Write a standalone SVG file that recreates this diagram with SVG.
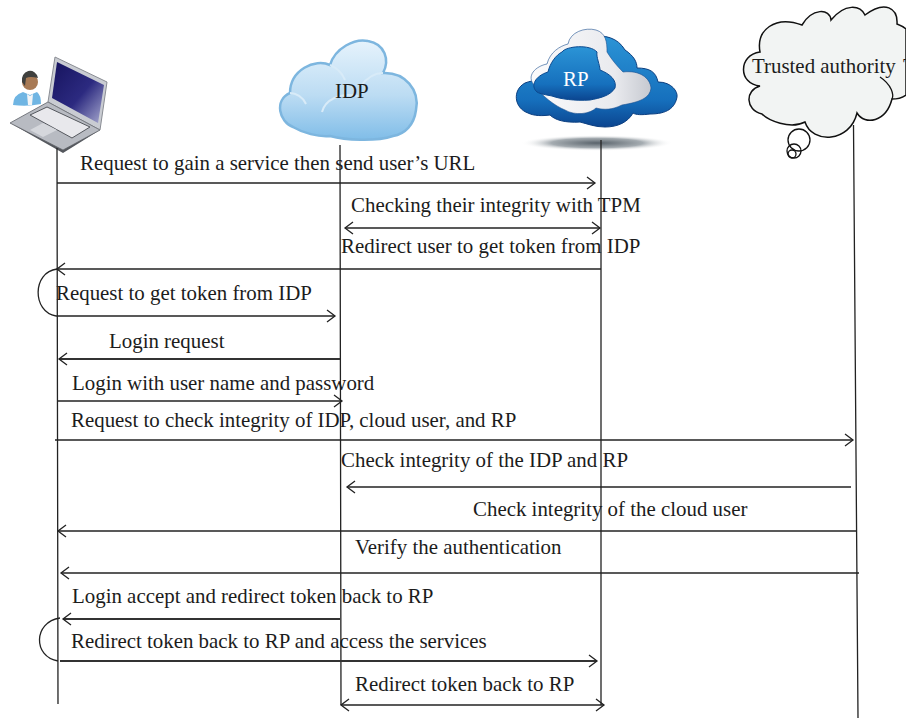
<svg xmlns="http://www.w3.org/2000/svg" width="906" height="718" viewBox="0 0 906 718">
<style>
text{font-family:"Liberation Serif","Times New Roman",serif;font-size:20.9px;fill:#1c1c1c}
.l{stroke:#222;stroke-width:1.300;fill:none}
.m{stroke:#222;stroke-width:1.500;fill:none;marker-end:url(#a)}
.t{stroke:#333;stroke-width:2;fill:none;marker-end:url(#a)}
.b{stroke:#222;stroke-width:1.500;fill:none;marker-end:url(#a);marker-start:url(#s)}
.o{fill:none;stroke:#111;stroke-width:1.300}
</style>
<defs>
<marker id="a" markerUnits="userSpaceOnUse" markerWidth="12" markerHeight="16" refX="9" refY="7" orient="auto"><path d="M1 1L9 7L1 13" fill="none" stroke="#222" stroke-width="1.300"/></marker>
<marker id="s" markerUnits="userSpaceOnUse" markerWidth="12" markerHeight="16" refX="2" refY="7" orient="auto"><path d="M10 1L2 7L10 13" fill="none" stroke="#222" stroke-width="1.300"/></marker>
<linearGradient id="c1" x1="0" y1="0" x2="0" y2="1"><stop offset="0" stop-color="#e6f3fc"/><stop offset=".55" stop-color="#bcdcf3"/><stop offset="1" stop-color="#80bde8"/></linearGradient>
<linearGradient id="c2" x1="0" y1="0" x2="0" y2="1"><stop offset="0" stop-color="#2b94d6"/><stop offset=".7" stop-color="#1670bd"/><stop offset="1" stop-color="#0b4590"/></linearGradient>
<linearGradient id="c3" x1="0" y1="0" x2="1" y2="0"><stop offset="0" stop-color="#fbfbfc"/><stop offset=".7" stop-color="#e9eaee"/><stop offset="1" stop-color="#c6c9d0"/></linearGradient>
<linearGradient id="sc" x1="0" y1="0" x2="1" y2="1"><stop offset="0" stop-color="#16135e"/><stop offset=".55" stop-color="#2c2a80"/><stop offset="1" stop-color="#a9abd0"/></linearGradient>
<radialGradient id="sh"><stop offset="0" stop-color="#59636b"/><stop offset=".6" stop-color="#a5acb1"/><stop offset="1" stop-color="#fff" stop-opacity="0"/></radialGradient>
</defs>

<g id="user">
<path d="M55 57L107 82L100 130L48 102Z" fill="#c9ccd2" stroke="#8a8d94"/>
<path d="M57 62L104 85L98 123L52 98Z" fill="url(#sc)"/>
<path d="M10 123L48 102L100 130L63 150Z" fill="#b8bbc2" stroke="#777a80"/>
<path d="M30 115L47 107L90 127L72 138Z" fill="#e8e8ec" stroke="#55585e"/>
<path d="M30 130L43 123L57 130L43 137Z" fill="#d5d7dc"/>
<path d="M10 123L63 150L100 130L63 153Z" fill="#55585e"/>
<circle cx="30" cy="82" r="8" fill="#a87a55"/><path d="M22 82a8 9 0 0 1 16-4q-8-2-12 0l-1 8Z" fill="#3f403e"/>
<path d="M13 105q0-10 10-13l7 3 7-3q4 3 4 12q-14 3-28 1Z" fill="#6fb5e3"/>
<path d="M27 94l3 2 3-2-1 11h-4Z" fill="#f2f4f6"/>
</g>

<g id="idp">
<path d="M293 127C279 122 274 100 290 93C290 70 315 58 330 65C335 48 355 38 368 41C385 44 390 60 383 73C405 72 420 90 416 110C414 125 405 134 393 136C375 142 345 140 330 136C318 137 303 133 293 127Z" fill="url(#c1)" stroke="#7db6df" stroke-width="2.500"/>
<path d="M290 93C296 93 303 97 306 104M330 65C338 68 342 73 345 80M383 73C372 73 366 79 361 86M322 112C325 100 340 92 358 96" fill="none" stroke="#d8ebf8" stroke-width="2"/>
<text x="335" y="98">IDP</text>
</g>

<g id="rp">
<ellipse cx="597" cy="143" rx="76" ry="8" fill="url(#sh)"/>
<path d="M528 113C514 108 512 90 525 83C535 79 545 80 550 84L590 37C605 34 618 38 625 50C634 56 637 62 637 68C650 68 656 72 658 82C672 82 678 92 677 97C675 108 667 114 650 114C642 115 636 115 633 113C628 122 618 127 605 127C595 127 588 124 580 122C565 123 555 120 550 115C542 116 534 116 528 113Z" fill="url(#c2)" stroke="#0c3f80"/>
<path d="M535 86C525 76 536 66 547 64C550 52 560 46 568 44C570 32 585 27 596 30C606 33 607 42 607 52C612 60 617 66 623 72C640 70 650 78 651 88C650 98 640 102 622 105C612 110 604 110 596 108C590 114 575 116 565 110C555 106 542 96 535 86Z" fill="url(#c3)" stroke="#1b4f8f" stroke-width=".6"/>
<path d="M537 92C530 86 535 76 548 72C550 63 556 55 562 52C566 46 590 44 597 52C596 57 600 65 600 70C610 74 617 80 615 88C610 96 600 98 590 100C575 101 560 99 552 96C547 95 540 94 537 92Z" fill="url(#c2)" stroke="#0c4a90"/>
<text x="563" y="86" style="fill:#fff">RP</text>
</g>

<g id="ta">
<path d="M760 52C756 30 775 15 802 25C812 8 830 8 831 20C845 3 860 5 865 15C885 0 898 8 897 24C902 26 904 27 906 29V95C900 99 895 99 892 99C886 122 865 126 857 113C850 143 812 144 805 122C790 130 768 120 762 114C745 110 745 90 760 86C738 84 738 55 760 52Z" fill="#f2f4f3" stroke="#111" stroke-width="1.500"/>
<circle cx="799" cy="140" r="11" class="o"/>
<circle cx="794" cy="151" r="7" class="o"/>
<circle cx="792" cy="154" r="4" class="o"/>
<path d="M880 77C892 85 894 95 892 99" class="o"/>
<text x="752" y="73">Trusted authority</text>
<text x="903" y="73">T</text>
</g>

<g id="connectors">
<path class="l" d="M57 148L58 704M340 145L341 705M601 140V705M853.500 125L858 718"/>
<path class="m" d="M57 183H595"/>
<path class="b" d="M345 228H600"/>
<path class="m" d="M601 269H57"/>
<path class="l" d="M57 269C32 272 32 312 56 316"/>
<path class="m" d="M56 316H335"/>
<path class="t" d="M340 359H59"/>
<path class="m" d="M58 401H342"/>
<path class="m" d="M55 440H853"/>
<path class="m" d="M851 487H347"/>
<path class="m" d="M857 531H58"/>
<path class="m" d="M859 573H61"/>
<path class="t" d="M340 619H63"/>
<path class="l" d="M60 618C33 622 33 657 58 661"/>
<path class="t" d="M60 661H597"/>
<path class="b" d="M341 705H604"/>
</g>

<g id="labels">
<text x="80" y="170">Request to gain a service then send user’s URL</text>
<text x="351" y="212">Checking their integrity with TPM</text>
<text x="341" y="253">Redirect user to get token from IDP</text>
<text x="56" y="300">Request to get token from IDP</text>
<text x="109" y="348">Login request</text>
<text x="72" y="390">Login with user name and password</text>
<text x="71" y="427">Request to check integrity of IDP, cloud user, and RP</text>
<text x="341" y="467">Check integrity of the IDP and RP</text>
<text x="473" y="516">Check integrity of the cloud user</text>
<text x="355" y="554">Verify the authentication</text>
<text x="72" y="603">Login accept and redirect token back to RP</text>
<text x="71" y="648">Redirect token back to RP and access the services</text>
<text x="355" y="691">Redirect token back to RP</text>
</g>
</svg>
